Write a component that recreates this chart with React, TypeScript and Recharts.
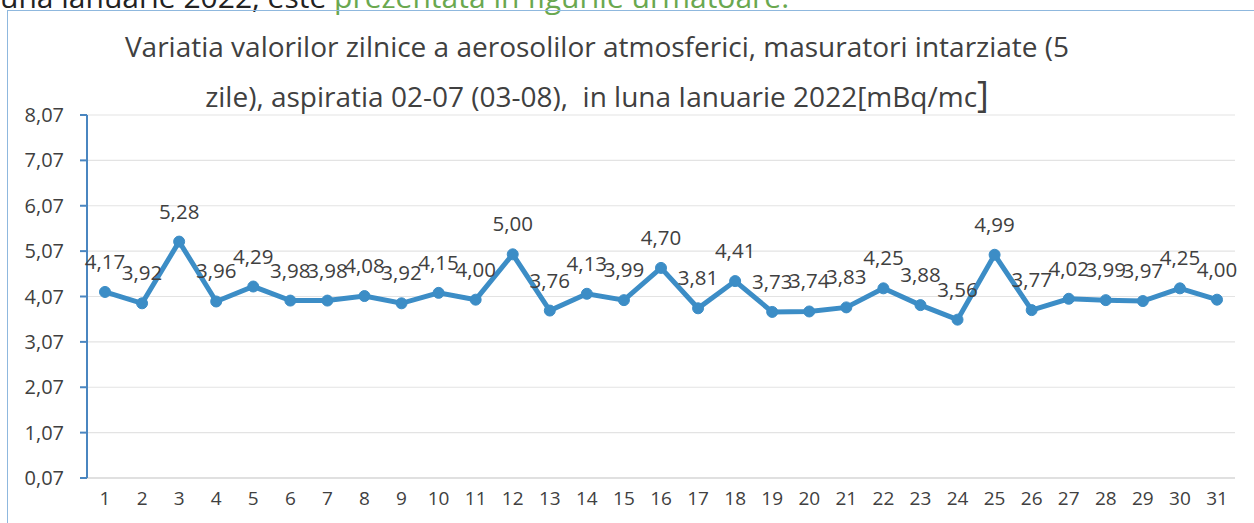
import React from "react";
import { LineChart, Line, XAxis, YAxis, CartesianGrid, LabelList } from "recharts";

const days: string[] = ["1","2","3","4","5","6","7","8","9","10","11","12","13","14","15","16","17","18","19","20","21","22","23","24","25","26","27","28","29","30","31"];
const values: number[] = [4.17,3.92,5.28,3.96,4.29,3.98,3.98,4.08,3.92,4.15,4.00,5.00,3.76,4.13,3.99,4.70,3.81,4.41,3.73,3.74,3.83,4.25,3.88,3.56,4.99,3.77,4.02,3.99,3.97,4.25,4.00];
const yTicks: number[] = [0.07,1.07,2.07,3.07,4.07,5.07,6.07,7.07,8.07];
const titleLine1 = "Variatia valorilor zilnice a aerosolilor atmosferici, masuratori intarziate (5";
const titleLine2 = "zile), aspiratia 02-07 (03-08),  in luna Ianuarie 2022[mBq/mc";
const docTextBlack = "una ianuarie 2022, este ";
const docTextGreen = "prezentata in figurile urmatoare.";

const data = days.map((d, i) => ({ day: d, value: values[i] }));
const fmt = (v: any) => Number(v).toFixed(2).replace(".", ",");

const FONT = "'Open Sans', 'Noto Sans', sans-serif";
const BLUE = "#3c8dc6";

export default function App() {
  return (
    <div style={{ position: "absolute", left: 0, top: 0, width: 1254, height: 523, overflow: "hidden", background: "#fff", fontFamily: FONT }}>
      <div style={{ position: "absolute", left: 0, top: -18, fontSize: 30, lineHeight: "30px", whiteSpace: "pre", color: "#222" }}>
        {docTextBlack}<span style={{ color: "#6aa84f" }}>{docTextGreen}</span>
      </div>
      <div style={{ position: "absolute", left: 7, top: 10, width: 1300, height: 600, border: "1.5px solid #8fb8de", boxSizing: "border-box" }} />
      <div style={{ position: "absolute", left: 0, top: 0 }}>
        <LineChart width={1254} height={523} data={data} margin={{ top: 115, right: 19, bottom: 0, left: 0 }}>
          <CartesianGrid horizontal={true} vertical={false} stroke="#e3e3e3" strokeWidth={1.2} />
          <XAxis
            dataKey="day"
            height={45}
            tickLine={false}
            axisLine={{ stroke: "#d0d0d0", strokeWidth: 1.2 }}
            tickMargin={8}
            interval={0}
            padding={{ left: 18, right: 18 }}
            tick={{ fontSize: 19, fill: "#404040", fontFamily: FONT }}
          />
          <YAxis
            width={87}
            domain={[0.07, 8.07]}
            ticks={yTicks}
            tickFormatter={fmt}
            axisLine={{ stroke: "#4a86c0", strokeWidth: 2 }}
            tickLine={{ stroke: "#4a86c0", strokeWidth: 2 }}
            tickSize={7}
            tickMargin={16}
            tick={{ fontSize: 20, fill: "#404040", fontFamily: FONT }}
          />
          <Line
            type="linear"
            dataKey="value"
            stroke={BLUE}
            strokeWidth={5}
            dot={{ r: 5.5, fill: BLUE, stroke: BLUE, strokeWidth: 1 }}
            isAnimationActive={false}
          >
            <LabelList dataKey="value" position="top" offset={23} formatter={fmt} style={{ fontSize: 20.5, fill: "#404040", fontFamily: FONT }} />
          </Line>
        </LineChart>
      </div>
      <div style={{ position: "absolute", left: 0, width: 1194, top: 26, textAlign: "center", fontSize: 28, lineHeight: "40px", color: "#404040", whiteSpace: "pre" }}>
        {titleLine1}
      </div>
      <div style={{ position: "absolute", left: 0, width: 1194, top: 72, textAlign: "center", fontSize: 28, lineHeight: "44px", color: "#404040", whiteSpace: "pre" }}>
        {titleLine2}<span style={{ fontSize: 36 }}>]</span>
      </div>
    </div>
  );
}
